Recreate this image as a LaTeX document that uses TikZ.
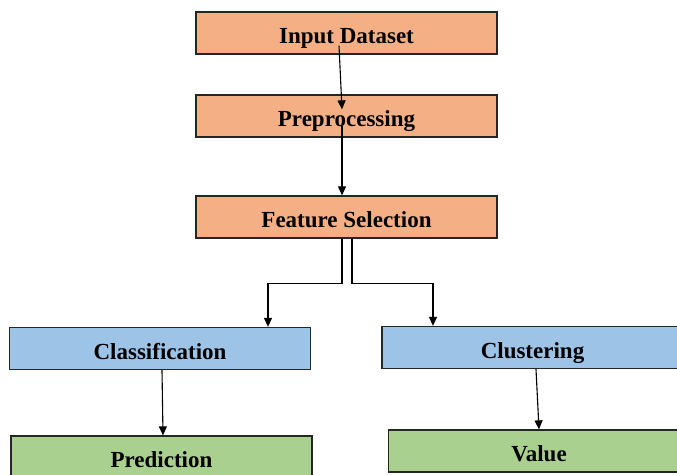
\documentclass[tikz,border=0pt]{standalone}
\usepackage{fontspec}
\setmainfont{Liberation Serif}
\usetikzlibrary{arrows.meta,positioning,calc}
\definecolor{peach}{RGB}{244,176,132}
\definecolor{skyblue}{RGB}{157,195,230}
\definecolor{leaf}{RGB}{169,208,142}
\definecolor{edge}{RGB}{38,38,38}

\tikzset{
  stage/.style={draw=edge,line width=1.3pt,minimum width=301pt,minimum height=42pt,
    inner sep=0pt,text height=21pt,text depth=0pt,
    font=\fontsize{23}{26}\selectfont\bfseries},
  arr/.style={draw=black,line width=1.1pt,-{Triangle[width=8pt,length=9pt]}}
}

\begin{document}
\begin{tikzpicture}[x=1pt,y=-1pt]
  \useasboundingbox (0,0) rectangle (677,474);
  \clip (0,0) rectangle (677,474);
  % top stages
  \node[stage,fill=peach] (in) at (346.5,33) {Input Dataset};
  \node[stage,fill=peach] (pre) at (346.5,116) {Preprocessing};
  \node[stage,fill=peach] (fs) at (346.5,217) {Feature Selection};
  % the two branches
  \node[stage,fill=skyblue] (cls) at (160,348.5) {Classification};
  \node[stage,fill=skyblue] (clu) at (532.5,347.5) {Clustering};
  \node[stage,fill=leaf] (pred) at (161.5,457) {Prediction};
  \node[stage,fill=leaf] (val) at (539,451) {Value};
  % connectors
  \draw[arr] ([xshift=-7.5pt,yshift=9pt]in.south) -- ([xshift=-4.5pt,yshift=-15pt]pre.north);
  \draw[arr] ([xshift=-4.5pt,yshift=12pt]pre.south) -- ([xshift=-4.5pt]fs.north);
  \draw[arr] ([xshift=-4.5pt]fs.south) -- ++(0,45) -| ([xshift=108pt]cls.north);
  \draw[arr] ([xshift=5.5pt]fs.south) -- ++(0,45) -| ([xshift=-99.5pt]clu.north);
  \draw[arr] ([xshift=2pt]cls.south) -- ([xshift=1.5pt]pred.north);
  \draw[arr] ([xshift=3.5pt]clu.south) -- ([xshift=0pt]val.north);
\end{tikzpicture}
\end{document}
